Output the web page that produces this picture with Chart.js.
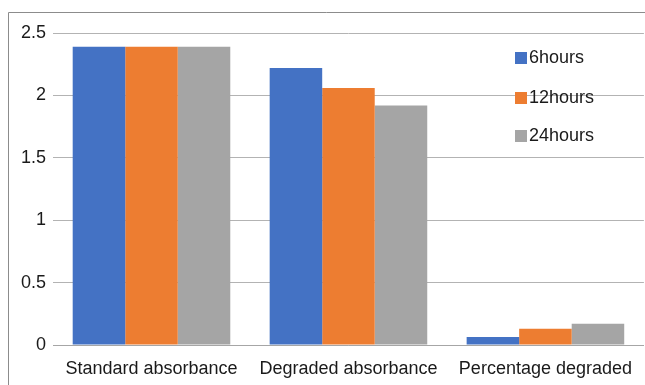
<!DOCTYPE html>
<html>
<head>
<meta charset="utf-8">
<script src="https://cdn.jsdelivr.net/npm/chart.js@4/dist/chart.umd.min.js"></script>
<style>
  html, body { margin: 0; padding: 0; background: #fff; }
  #wrap { width: 645px; height: 385px; position: relative; }
</style>
</head>
<body>
<div id="wrap"><canvas id="c" width="645" height="385"></canvas></div>
<script>
const categories = ['Standard absorbance', 'Degraded absorbance', 'Percentage degraded'];
const seriesNames = ['6hours', '12hours', '24hours'];
const hours6 = [2.39, 2.22, 0.064];
const hours12 = [2.39, 2.06, 0.13];
const hours24 = [2.39, 1.92, 0.17];
const yTicks = [0, 0.5, 1, 1.5, 2, 2.5];
const colors = ['#4472c4', '#ed7d31', '#a5a5a5'];

const FONT = '"Liberation Sans", Arial, sans-serif';
const TEXT = '#1a1a1a';

// Outer frame (top and left edges) around the chart
const framePlugin = {
  id: 'frame',
  afterDraw(chart) {
    const ctx = chart.ctx;
    ctx.save();
    ctx.strokeStyle = '#8c8c8c';
    ctx.lineWidth = 1;
    ctx.beginPath();
    ctx.moveTo(8.5, 385);
    ctx.lineTo(8.5, 12.5);
    ctx.lineTo(645, 12.5);
    ctx.stroke();
    ctx.restore();
  }
};

// Legend stacked vertically inside the plot, upper right
const innerLegend = {
  id: 'innerLegend',
  afterDatasetsDraw(chart) {
    const ctx = chart.ctx;
    ctx.save();
    ctx.font = '18px ' + FONT;
    ctx.textBaseline = 'middle';
    const rows = [57, 97, 135];
    chart.data.datasets.forEach((ds, i) => {
      const y = rows[i];
      ctx.fillStyle = ds.backgroundColor;
      ctx.fillRect(515, y - 5, 12, 12);
      ctx.fillStyle = TEXT;
      ctx.fillText(ds.label, 529, y + 1);
    });
    ctx.restore();
  }
};

const data = {
  labels: categories,
  datasets: [hours6, hours12, hours24].map((vals, i) => ({
    label: seriesNames[i],
    data: vals,
    backgroundColor: colors[i],
    borderWidth: 0,
    categoryPercentage: 0.8,
    barPercentage: 1.0
  }))
};

new Chart(document.getElementById('c'), {
  type: 'bar',
  data,
  options: {
    responsive: false,
    animation: false,
    devicePixelRatio: 1,
    layout: { padding: { top: 33, left: 8, right: 0, bottom: 0 } },
    plugins: {
      legend: { display: false },
      tooltip: { enabled: false }
    },
    scales: {
      x: {
        grid: { display: false, drawTicks: false },
        border: { display: true, color: '#a6a6a6', width: 1 },
        ticks: { color: TEXT, font: { family: FONT, size: 18 }, padding: 13, maxRotation: 0 },
        afterFit(scale) { scale.height = 40; }
      },
      y: {
        min: 0,
        max: 2.5,
        afterBuildTicks(scale) { scale.ticks = yTicks.map(v => ({ value: v })); },
        grid: { color: '#b3b3b3', lineWidth: 1, drawTicks: false },
        border: { display: false },
        ticks: {
          color: TEXT,
          font: { family: FONT, size: 18 },
          padding: 7,
          callback: v => String(v)
        },
        afterFit(scale) { scale.width = 45; }
      }
    }
  },
  plugins: [framePlugin, innerLegend]
});
</script>
</body>
</html>
